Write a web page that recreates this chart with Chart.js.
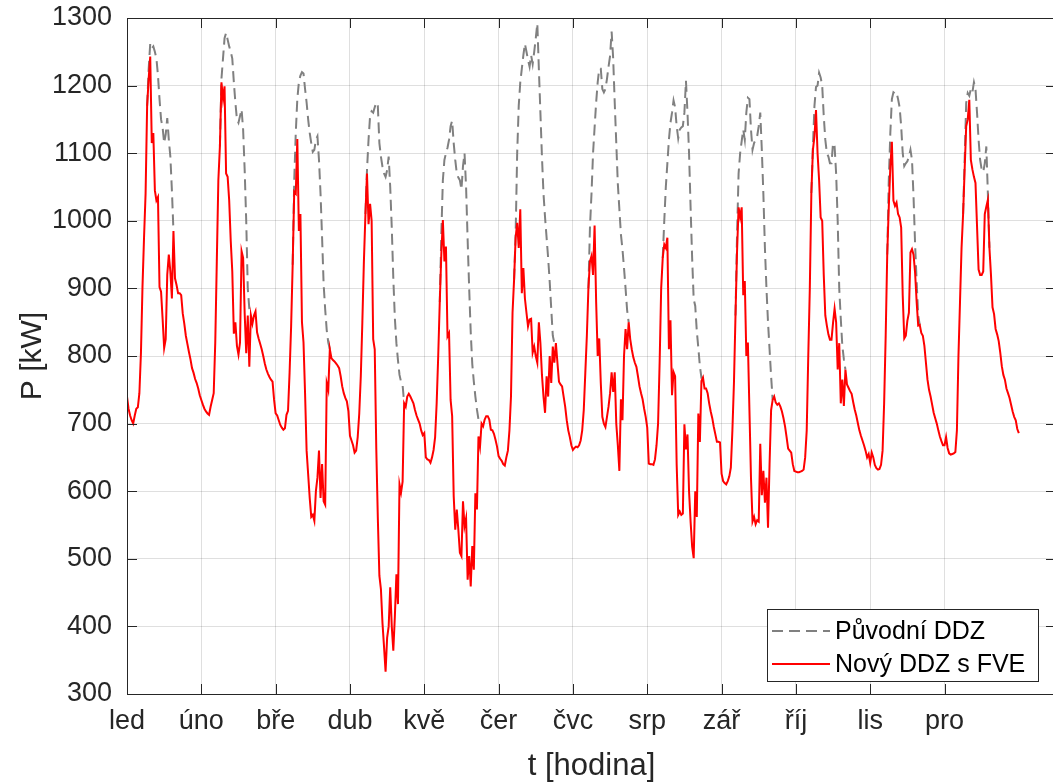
<!DOCTYPE html>
<html lang="cs">
<head>
<meta charset="utf-8">
<title>DDZ – původní a s FVE</title>
<script src="https://cdn.jsdelivr.net/npm/chart.js@4.4.1/dist/chart.umd.min.js"></script>
<style>
  html, body { margin: 0; padding: 0; background: #fff; overflow: hidden; }
  #obal { position: absolute; left: 0; top: 0; width: 1100px; height: 782px; }
</style>
</head>
<body>
<div id="obal"><canvas id="graf"></canvas></div>
<script>
/* Popisky osy x (měsíce) a osy y */
const mesice = ['led', 'úno', 'bře', 'dub', 'kvě', 'čer', 'čvc', 'srp', 'zář', 'říj', 'lis', 'pro'];
const osaYHodnoty = [300, 400, 500, 600, 700, 800, 900, 1000, 1100, 1200, 1300];

/* Každý měsíc = typický den, hodnoty po půlhodinách (kW) */
const KROK = 0.5;
const HODIN_MESIC = 24;
const N = null;

/* Nový DDZ s FVE */
const novyLed = [740,722,712,705,700,712,722,724, 745,804,902,975,1040,1170,1210,1243, 1115,1130,1045,1030,1035,902,895,855, 812,825,920,950,925,885,985,915, 905,893,893,890,863,848,830,818, 806,795,782,775,766,760,752,742];
const novyUno = [735,728,722,718,715,713,725,735, 745,820,940,1060,1110,1205,1180,1199, 1070,1065,1030,970,925,833,850,815, 802,820,955,945,863,804,860,784, 860,848,860,866,835,826,818,810, 800,789,780,774,769,765,762,735];
const novyBre = [715,712,705,698,694,691,693,713, 719,775,844,935,1043,1040,1121,985, 1010,850,820,745,660,625,590,562, 565,556,600,620,660,590,640,585, 580,760,750,810,797,794,792,789, 786,782,770,755,745,738,733,718];
const novyDub = [682,675,668,657,660,680,715,770, 850,940,1010,1070,995,1025,1000,825, 810,663,560,475,455,405,370,333, 383,400,458,400,364,415,477,433, 610,598,614,730,725,740,744,740, 735,730,720,712,706,700,690,683];
const novyKve = [686,650,647,646,642,650,661,680, 730,800,880,950,1001,940,962,829, 834,735,711,593,543,573,543,509, 504,585,548,560,469,504,459,519, 484,597,573,681,666,700,696,706, 711,711,706,691,690,685,676,666];
const novyCer = [652,648,645,640,638,650,660,690, 740,864,913,975,997,960,1017,893, 930,885,864,844,854,855,805,814, 800,790,850,819,772,740,716,770, 740,800,760,814,790,819,790,762, 758,755,740,725,705,690,680,668];
const novyCvc = [661,664,666,665,668,675,690,720, 775,830,900,940,948,920,993,880, 800,826,760,710,700,695,710,725, 745,776,747,776,700,668,630,736, 705,800,840,810,850,825,810,798, 790,784,770,755,745,736,722,710];
const novySrp = [694,641,640,640,639,647,668,700, 790,900,945,965,960,975,810,853, 742,776,770,640,565,570,565,567, 699,662,684,600,555,518,501,600, 562,715,673,763,768,752,752,745, 730,718,708,695,684,673,673,672];
const novyZar = [626,615,612,610,615,622,635,690, 760,860,955,1020,1005,1020,890,911, 800,820,720,620,555,562,551,557, 555,670,594,630,583,620,546,640, 720,735,740,731,728,730,725,718, 708,696,680,663,660,657,640,630];
const novyRij = [629,628,628,629,630,632,650,690, 800,900,1041,1105,1125,1164,1100,1060, 1005,1000,920,860,845,832,824,824, 849,870,850,780,819,730,765,726, 780,758,753,748,744,732,721,712, 701,690,682,675,668,660,650,655];
const novyLis = [642,657,650,639,634,632,633,639, 660,730,830,950,1020,1080,1117,1030, 1022,1027,1010,1005,990,890,826,830, 852,864,953,958,950,923,880,845, 846,834,830,815,790,765,750,740, 728,716,708,700,690,681,674,668];
const novyPro = [668,680,664,656,654,655,656,658, 690,800,880,960,1010,1076,1140,1150, 1179,1090,1076,1065,1056,992,928,920, 920,925,1010,1021,1031,960,920,872, 862,840,832,822,805,785,772,765, 752,745,738,728,718,710,705,692, 686];

/* Původní DDZ – mimo hodiny výroby FVE je shodný s novým (null = kryto červenou) */
const puvLed = [N,N,N,N,N,N,N,N, N,N,N,N,N,1170,1225,1262, 1255,1258,1250,1240,1215,1180,1150,1138, 1115,1128,1152,1120,1095,1045,985,N, N,N,N,N,N,N,N,N, N,N,N,N,N,N,N,N];
const puvUno = [N,N,N,N,N,N,N,N, N,N,N,N,1110,1210,1240,1270, 1278,1268,1258,1250,1240,1205,1175,1150, 1145,1155,1165,1135,1075,1000,900,870, 860,N,N,N,N,N,N,N, N,N,N,N,N,N,N,N];
const puvBre = [N,N,N,N,N,N,N,N, N,N,N,935,1060,1130,1180,1205, 1215,1220,1218,1195,1175,1150,1130,1115, 1102,1105,1120,1125,1090,1040,975,906, 869,838,820,810,N,N,N,N, N,N,N,N,N,N,N,N];
const puvDub = [N,N,N,N,N,N,N,N, N,N,1010,1075,1120,1155,1162,1160, 1168,1175,1170,1115,1095,1080,1070,1065, 1075,1095,1050,990,915,856,819,794, 772,762,757,730,N,N,N,N, N,N,N,N,N,N,N,N];
const puvKve = [N,N,N,N,N,N,N,N, N,N,880,980,1060,1090,1100,1108, 1120,1140,1148,1115,1090,1070,1064,1060, 1046,1081,1100,1050,972,900,835,788, 762,740,721,706,700,700,N,N, N,N,N,N,N,N,N,N];
const puvCer = [N,N,N,N,N,N,N,N, N,N,913,980,1100,1170,1205,1225, 1245,1262,1250,1238,1228,1245,1232,1250, 1270,1292,1225,1160,1095,1040,1005,975, 945,910,870,830,819,819,N,N, N,N,N,N,N,N,N,N];
const puvCvc = [N,N,N,N,N,N,N,N, N,N,900,990,1040,1100,1138,1175, 1205,1225,1225,1195,1190,1195,1210,1228, 1244,1280,1240,1175,1115,1055,1017,980, 958,930,900,868,850,N,N,N, N,N,N,N,N,N,N,N];
const puvSrp = [N,N,N,N,N,N,N,N, N,N,945,1000,1050,1085,1120,1145, 1160,1178,1168,1140,1122,1135,1138,1140, 1160,1207,1160,1100,1020,945,884,874, 837,812,785,768,768,N,N,N, N,N,N,N,N,N,N,N];
const puvZar = [N,N,N,N,N,N,N,N, N,860,980,1070,1100,1118,1135,1120, 1160,1182,1180,1135,1105,1115,1120,1125, 1140,1160,1105,1040,960,900,850,810, 770,735,N,N,N,N,N,N, N,N,N,N,N,N,N,N];
const puvRij = [N,N,N,N,N,N,N,N, N,N,1041,1110,1170,1198,1200,1219, 1212,1200,1155,1120,1100,1095,1085,1085, 1115,1110,1070,1000,900,855,815,795, 780,N,N,N,N,N,N,N, N,N,N,N,N,N,N,N];
const puvLis = [N,N,N,N,N,N,N,N, N,N,N,950,1060,1130,1180,1190, 1188,1190,1180,1168,1140,1100,1081,1085, 1088,1095,1105,1090,1035,965,910,860, 846,N,N,N,N,N,N,N, N,N,N,N,N,N,N,N];
const puvPro = [N,N,N,N,N,N,N,N, N,N,N,N,1010,1090,1174,1189, 1185,1195,1190,1205,1195,1160,1120,1090, 1076,1072,1085,1110,1040,960,N,N, N,N,N,N,N,N,N,N, N,N,N,N,N,N,N,N, N];

const novyMesice = [novyLed, novyUno, novyBre, novyDub, novyKve, novyCer, novyCvc, novySrp, novyZar, novyRij, novyLis, novyPro];
const puvMesice  = [puvLed, puvUno, puvBre, puvDub, puvKve, puvCer, puvCvc, puvSrp, puvZar, puvRij, puvLis, puvPro];

const PISMO = "'Liberation Sans', Arial, Helvetica, sans-serif";
const barvaOsy = '#262626';
const cervena = '#ff0000';
const seda = '#808080';

/*
 * Převod měsíčních polí na body {x: hodina, y: výkon}.
*/
function naBody(mesicniPole) {
  const body = [];
  mesicniPole.forEach((pole, m) => {
    pole.forEach((v, k) => body.push({ x: m * HODIN_MESIC + k * KROK, y: v }));
  });
  return body;
}

/* Rámeček os s ticky dovnitř (styl MATLAB), popis osy y a legenda */
const ramecekPlugin = {
  id: 'ramecek',
  afterDatasetsDraw(chart) {
    const { ctx, chartArea: a, scales: { x, y } } = chart;
    const delka = 10;
    ctx.save();
    ctx.strokeStyle = barvaOsy;
    ctx.lineWidth = 1;
    ctx.beginPath();
    ctx.rect(Math.round(a.left) + 0.5, Math.round(a.top) + 0.5, Math.round(a.right - a.left), Math.round(a.bottom - a.top));
    x.ticks.forEach(t => {
      const px = Math.round(x.getPixelForValue(t.value)) + 0.5;
      ctx.moveTo(px, a.bottom); ctx.lineTo(px, a.bottom - delka);
      ctx.moveTo(px, a.top); ctx.lineTo(px, a.top + delka);
    });
    y.ticks.forEach(t => {
      const py = Math.round(y.getPixelForValue(t.value)) + 0.5;
      ctx.moveTo(a.left, py); ctx.lineTo(a.left + delka, py);
      ctx.moveTo(a.right, py); ctx.lineTo(a.right - delka, py);
    });
    ctx.stroke();

    /* Popis osy y, svisle na střed osy */
    ctx.save();
    ctx.translate(33, (a.top + a.bottom) / 2);
    ctx.rotate(-Math.PI / 2);
    ctx.fillStyle = barvaOsy;
    ctx.font = '30px ' + PISMO;
    ctx.textAlign = 'center';
    ctx.textBaseline = 'middle';
    ctx.fillText('P [kW]', 0, 0);
    ctx.restore();

    /* Legenda */
    const lx = 767, ly = 609, lw = 271, lh = 72;
    ctx.fillStyle = '#fff';
    ctx.fillRect(lx, ly, lw, lh);
    ctx.strokeStyle = barvaOsy;
    ctx.strokeRect(lx + 0.5, ly + 0.5, lw, lh);
    const radky = [ly + 22, ly + 55];
    chart.data.datasets.forEach((ds, i) => {
      const ry = radky[i];
      ctx.strokeStyle = ds.borderColor;
      ctx.lineWidth = ds.borderWidth;
      ctx.setLineDash(ds.borderDash || []);
      ctx.beginPath();
      ctx.moveTo(lx + 5, ry); ctx.lineTo(lx + 63, ry);
      ctx.stroke();
      ctx.setLineDash([]);
      ctx.fillStyle = '#000';
      ctx.font = '25px ' + PISMO;
      ctx.textAlign = 'left';
      ctx.textBaseline = 'middle';
      ctx.fillText(ds.label, lx + 68, ry + 1);
    });
    ctx.restore();
  }
};

const ctx = document.getElementById('graf').getContext('2d');
new Chart(ctx, {
  type: 'line',
  data: {
    datasets: [
      {
        label: 'Původní DDZ',
        data: naBody(puvMesice),
        borderColor: seda,
        borderWidth: 2,
        borderDash: [11, 6],
        pointRadius: 0,
        spanGaps: false,
        order: 2
      },
      {
        label: 'Nový DDZ s FVE',
        data: naBody(novyMesice),
        borderColor: cervena,
        borderWidth: 2,
        pointRadius: 0,
        order: 1
      }
    ]
  },
  options: {
    responsive: true,
    maintainAspectRatio: false,
    animation: false,
    layout: { padding: { left: 0, top: 18, right: 44, bottom: 0 } },
    plugins: {
      legend: { display: false },
      tooltip: { enabled: false }
    },
    scales: {
      x: {
        type: 'linear',
        min: 0,
        max: 300,
        afterBuildTicks: scale => {
          scale.ticks = mesice.map((_, i) => ({ value: i * HODIN_MESIC }));
        },
        afterFit: scale => { scale.height = 88; },
        ticks: {
          autoSkip: false,
          maxRotation: 0,
          padding: 11,
          color: barvaOsy,
          font: { family: PISMO, size: 27 },
          callback: v => mesice[Math.round(v / HODIN_MESIC)]
        },
        grid: { color: 'rgba(38,38,38,0.15)', drawTicks: false },
        border: { display: false },
        title: {
          display: true,
          text: 't [hodina]',
          color: barvaOsy,
          font: { family: PISMO, size: 31, lineHeight: 1 },
          padding: { top: 0, bottom: 0 }
        }
      },
      y: {
        min: 300,
        max: 1300,
        afterBuildTicks: scale => {
          scale.ticks = osaYHodnoty.map(v => ({ value: v }));
        },
        afterFit: scale => { scale.width = 127; },
        ticks: {
          padding: 15,
          color: barvaOsy,
          font: { family: PISMO, size: 27, lineHeight: 0.2 },
          callback: v => String(v)
        },
        grid: { color: 'rgba(38,38,38,0.15)', drawTicks: false },
        border: { display: false }
      }
    }
  },
  plugins: [ramecekPlugin]
});
</script>
</body>
</html>
